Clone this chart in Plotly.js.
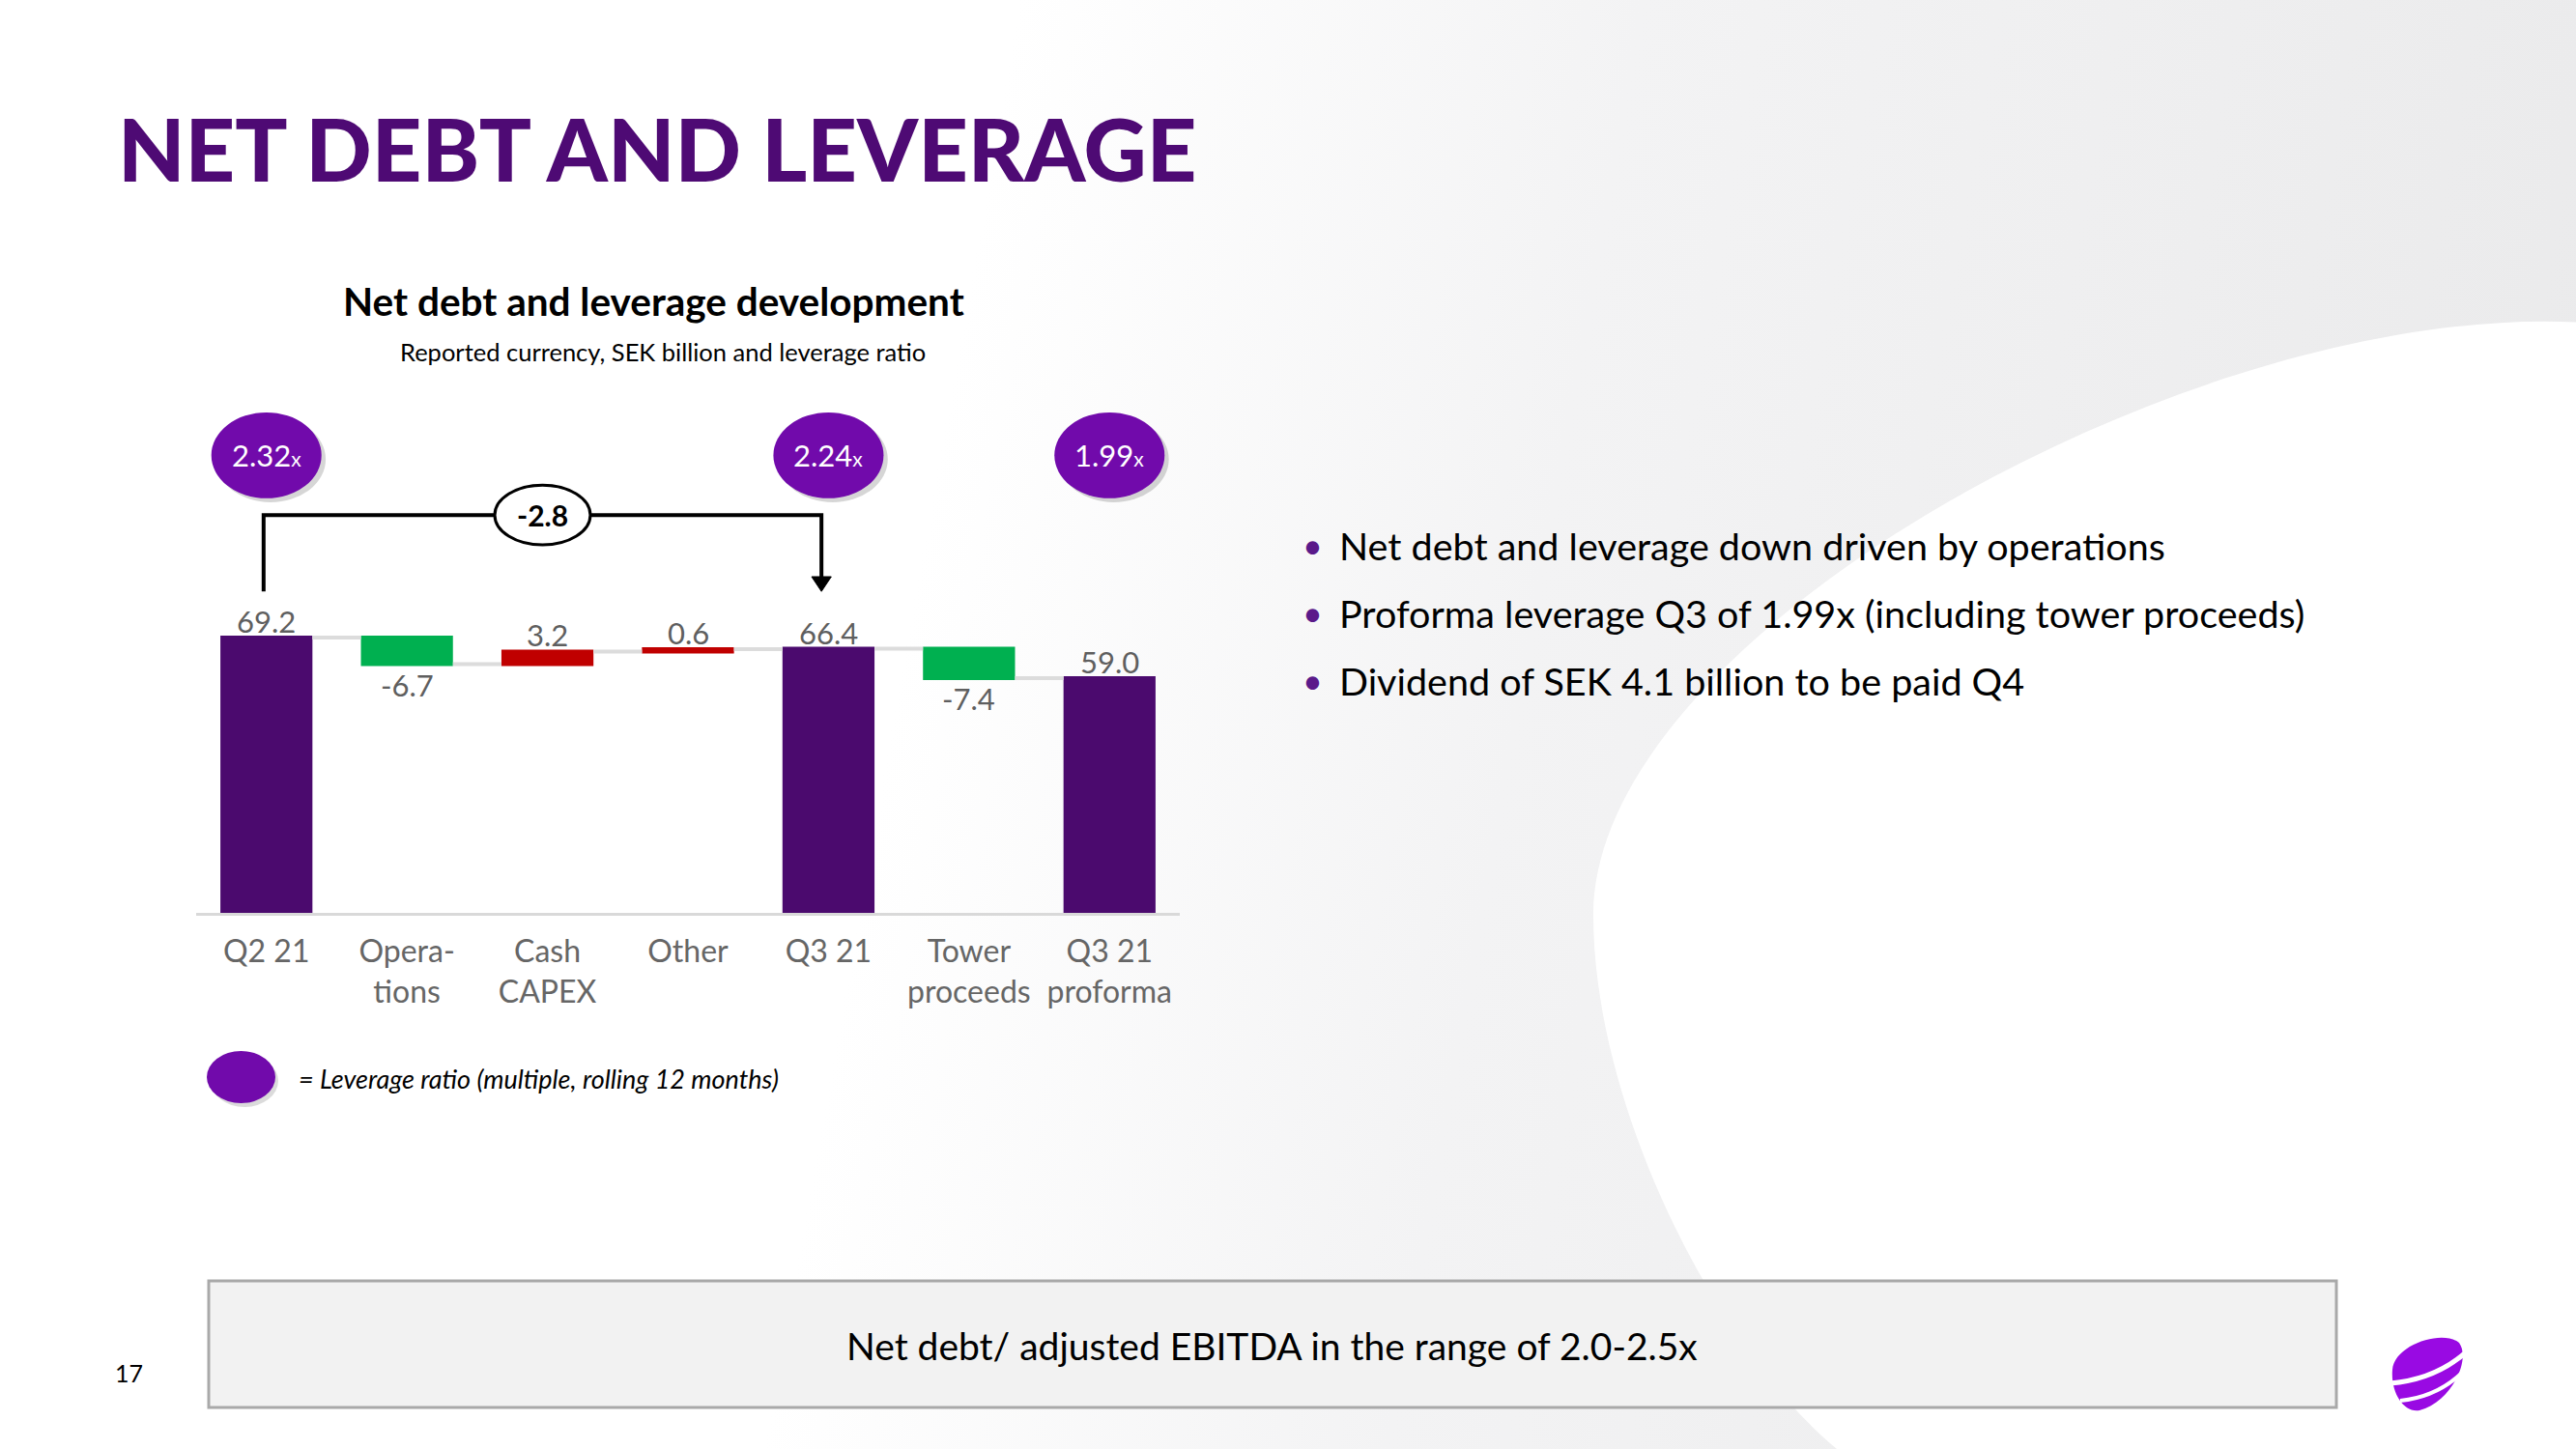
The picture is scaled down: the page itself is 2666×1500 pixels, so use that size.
<!DOCTYPE html>
<html>
<head>
<meta charset="utf-8">
<script src="https://cdn.plot.ly/plotly-3.0.1.min.js"></script>
<style>
  html, body { margin: 0; padding: 0; width: 2666px; height: 1500px; overflow: hidden; }
  body { background: linear-gradient(100deg, #ffffff 0%, #ffffff 36%, #f3f3f4 58%, #e9e9ea 100%); position: relative; font-family: Lato, sans-serif; }
  #chart { position: absolute; left: 0; top: 0; width: 2666px; height: 1500px; }
</style>
</head>
<body>
<div id="chart"></div>
<script>
// ---------------- data ----------------
const categories = ['Q2 21', 'Opera-<br>tions', 'Cash<br>CAPEX', 'Other', 'Q3 21', 'Tower<br>proceeds', 'Q3 21<br>proforma'];
const measures   = ['absolute', 'relative', 'relative', 'relative', 'absolute', 'relative', 'total'];
const values     = [69.2, -6.7, 3.2, 0.6, 66.4, -7.4, 0];
const valueLabels = ['69.2', '-6.7', '3.2', '0.6', '66.4', '-7.4', '59.0'];
const leverage   = [2.32, null, null, null, 2.24, null, 1.99];
const bracketFrom = 0, bracketTo = 4, bracketLabel = '-2.8';
const bullets = [
  'Net debt and leverage down driven by operations',
  'Proforma leverage Q3 of 1.99x (including tower proceeds)',
  'Dividend of SEK 4.1 billion to be paid Q4'
];
const boxText = 'Net debt/ adjusted EBITDA in the range of 2.0-2.5x';

// ---------------- geometry helpers ----------------
const W = 2666, H = 1500;
const M = { l: 203, r: 1445, t: 389, b: 555 };
const PW = W - M.l - M.r, PH = H - M.t - M.b;
const YMAX = 135;
const px2x = px => (px - M.l) / PW;            // page px -> paper x
const py2y = py => (H - M.b - py) / PH;        // page px -> paper y
const P = (x, y) => `${px2x(x)},${py2y(y)}`;
const FONT = 'Lato, "Noto Sans", sans-serif';

// cumulative levels for label placement
const lvlEnd = [];
let run = 0;
categories.forEach((c, i) => {
  const m = measures[i];
  if (m === 'absolute') run = values[i];
  else if (m === 'relative') run = run + values[i];
  lvlEnd.push(run);
});

const xs = categories.map((c, i) => i);

const waterfall = {
  type: 'waterfall',
  x: xs, y: values, measure: measures,
  increasing: { marker: { color: '#C00000' } },
  decreasing: { marker: { color: '#00B050' } },
  totals: { marker: { color: '#4B0A6E' } },
  connector: { mode: 'between', line: { color: '#dcdcdc', width: 4 } },
  textinfo: 'none', hoverinfo: 'skip', showlegend: false
};

const shapes = [];
const annotations = [];

// background egg (white area on the right)
shapes.push({ type: 'path', xref: 'paper', yref: 'paper', layer: 'below',
  path: `M ${P(2700, 336)} C ${P(2300, 295)} ${P(1649, 650)} ${P(1649, 947)} C ${P(1649, 1150)} ${P(1780, 1400)} ${P(1901, 1500)} L ${P(1960, 1600)} L ${P(2700, 1600)} Z`,
  fillcolor: '#ffffff', line: { width: 0 } });

// value labels
categories.forEach((c, i) => {
  const below = measures[i] === 'relative' && values[i] < 0;
  annotations.push({ xref: 'x', yref: 'y', x: i, y: lvlEnd[i], showarrow: false,
    yanchor: 'middle', yshift: below ? -21 : 17, text: valueLabels[i],
    font: { family: FONT, size: 31, color: '#5f5f5f' } });
});

// leverage bubbles
const BUB_Y = 115, BUB_RX = 0.392, BUB_RY = 10.8;
leverage.forEach((v, i) => {
  if (v === null) return;
  shapes.push({ type: 'circle', xref: 'x', yref: 'y', x0: i - BUB_RX + 0.03, x1: i + BUB_RX + 0.03,
    y0: BUB_Y - BUB_RY - 1.0, y1: BUB_Y + BUB_RY - 1.0, fillcolor: 'rgba(0,0,0,0.16)', line: { width: 0 }, layer: 'above' });
  shapes.push({ type: 'circle', xref: 'x', yref: 'y', x0: i - BUB_RX, x1: i + BUB_RX,
    y0: BUB_Y - BUB_RY, y1: BUB_Y + BUB_RY, fillcolor: '#710AAB', line: { width: 0 }, layer: 'above' });
  annotations.push({ xref: 'x', yref: 'y', x: i, y: BUB_Y, showarrow: false,
    text: v.toFixed(2) + '<span style="font-size:21px">x</span>',
    font: { family: FONT, size: 31, color: '#ffffff' } });
});

// bracket
const BR_TOP = 100, BR_BOT = 80.8;
const bx0 = bracketFrom - 0.02, bx1 = bracketTo - 0.05;
shapes.push({ type: 'path', xref: 'x', yref: 'y', layer: 'above',
  path: `M ${bx0},${BR_BOT} L ${bx0},${BR_TOP} L ${bx1},${BR_TOP} L ${bx1},${BR_BOT + 3}`,
  line: { color: '#000000', width: 4 } });
shapes.push({ type: 'path', xref: 'x', yref: 'y', layer: 'above',
  path: `M ${bx1 - 0.07},${BR_BOT + 3.7} L ${bx1 + 0.07},${BR_BOT + 3.7} L ${bx1},${BR_BOT} Z`,
  fillcolor: '#000000', line: { color: '#000000', width: 1 } });
const ovalX = (bx0 + bx1) / 2;
shapes.push({ type: 'circle', xref: 'x', yref: 'y', layer: 'above',
  x0: ovalX - 0.34, x1: ovalX + 0.34, y0: BR_TOP - 7.5, y1: BR_TOP + 7.5,
  fillcolor: '#ffffff', line: { color: '#000000', width: 3 } });
annotations.push({ xref: 'x', yref: 'y', x: ovalX, y: BR_TOP, showarrow: false, text: '<b>' + bracketLabel + '</b>',
  font: { family: FONT, size: 30, color: '#000000' } });

// legend bubble
shapes.push({ type: 'circle', xref: 'paper', yref: 'paper', layer: 'above',
  x0: px2x(218), x1: px2x(288), y0: py2y(1146), y1: py2y(1092), fillcolor: 'rgba(0,0,0,0.14)', line: { width: 0 } });
shapes.push({ type: 'circle', xref: 'paper', yref: 'paper', layer: 'above',
  x0: px2x(214), x1: px2x(285), y0: py2y(1142), y1: py2y(1088), fillcolor: '#710AAB', line: { width: 0 } });
annotations.push({ xref: 'paper', yref: 'paper', x: px2x(307), y: py2y(1116), xanchor: 'left', yanchor: 'middle',
  showarrow: false, text: '<i>= Leverage ratio (multiple, rolling 12 months)</i>',
  font: { family: FONT, size: 27, color: '#000000' } });

// bottom box
shapes.push({ type: 'rect', xref: 'paper', yref: 'paper', layer: 'below',
  x0: px2x(216), x1: px2x(2418), y0: py2y(1457), y1: py2y(1326),
  fillcolor: '#f2f2f2', line: { color: '#a9a9a9', width: 3 } });
annotations.push({ xref: 'paper', yref: 'paper', x: px2x(1316), y: py2y(1393), xanchor: 'center', yanchor: 'middle',
  showarrow: false, text: boxText, font: { family: FONT, size: 39, color: '#000000' } });

// titles
annotations.push({ xref: 'paper', yref: 'paper', x: px2x(120), y: py2y(153), xanchor: 'left', yanchor: 'middle',
  showarrow: false, text: 'NET DEBT AND LEVERAGE', font: { family: FONT, size: 90, color: '#4E0A74', weight: 900 } });
annotations.push({ xref: 'paper', yref: 'paper', x: px2x(676), y: py2y(311), xanchor: 'center', yanchor: 'middle',
  showarrow: false, text: 'Net debt and leverage development', font: { family: FONT, size: 40.5, color: '#000000', weight: 700 } });
annotations.push({ xref: 'paper', yref: 'paper', x: px2x(686), y: py2y(364), xanchor: 'center', yanchor: 'middle',
  showarrow: false, text: 'Reported currency, SEK billion and leverage ratio', font: { family: FONT, size: 25.5, color: '#000000' } });

// bullets
const bulletY = [564, 634, 704];
bullets.forEach((b, i) => {
  annotations.push({ xref: 'paper', yref: 'paper', x: px2x(1346), y: py2y(bulletY[i]), xanchor: 'left', yanchor: 'middle',
    showarrow: false, text: '•', font: { family: FONT, size: 36, color: '#5a1a8a' } });
  annotations.push({ xref: 'paper', yref: 'paper', x: px2x(1384), y: py2y(bulletY[i]), xanchor: 'left', yanchor: 'middle',
    showarrow: false, text: b, font: { family: FONT, size: 39.5, color: '#000000' } });
});

// page number
annotations.push({ xref: 'paper', yref: 'paper', x: px2x(133), y: py2y(1421), xanchor: 'center', yanchor: 'middle',
  showarrow: false, text: '17', font: { family: FONT, size: 25, color: '#000000' } });

// logo
shapes.push({ type: 'path', xref: 'paper', yref: 'paper', layer: 'above',
  path: `M ${P(2476, 1418)} C ${P(2478, 1392)} ${P(2528, 1376)} ${P(2545, 1390)} C ${P(2558, 1408)} ${P(2536, 1452)} ${P(2504, 1460)} C ${P(2488, 1463)} ${P(2474, 1442)} ${P(2476, 1418)} Z`,
  fillcolor: '#990AE3', line: { width: 0 } });
shapes.push({ type: 'path', xref: 'paper', yref: 'paper', layer: 'above',
  path: `M ${P(2474, 1432)} Q ${P(2520, 1428)} ${P(2552, 1400)}`, line: { color: '#ffffff', width: 5 } });
shapes.push({ type: 'path', xref: 'paper', yref: 'paper', layer: 'above',
  path: `M ${P(2484, 1450)} Q ${P(2522, 1446)} ${P(2548, 1421)}`, line: { color: '#ffffff', width: 4 } });

const layout = {
  width: W, height: H,
  margin: M,
  paper_bgcolor: 'rgba(0,0,0,0)', plot_bgcolor: 'rgba(0,0,0,0)',
  waterfallgap: 0.345,
  showlegend: false,
  font: { family: FONT },
  xaxis: {
    range: [-0.5, 6.5], tickmode: 'array', tickvals: xs, ticktext: categories,
    showgrid: false, zeroline: false, showline: true, linecolor: '#d9d9d9', linewidth: 3,
    ticks: '', ticklabelstandoff: 10, tickfont: { family: FONT, size: 32, color: '#666666' }, fixedrange: true
  },
  yaxis: { range: [0, YMAX], visible: false, showgrid: false, zeroline: false, fixedrange: true },
  shapes: shapes,
  annotations: annotations
};

Plotly.newPlot('chart', [waterfall], layout, { displayModeBar: false, staticPlot: true });
</script>
</body>
</html>
